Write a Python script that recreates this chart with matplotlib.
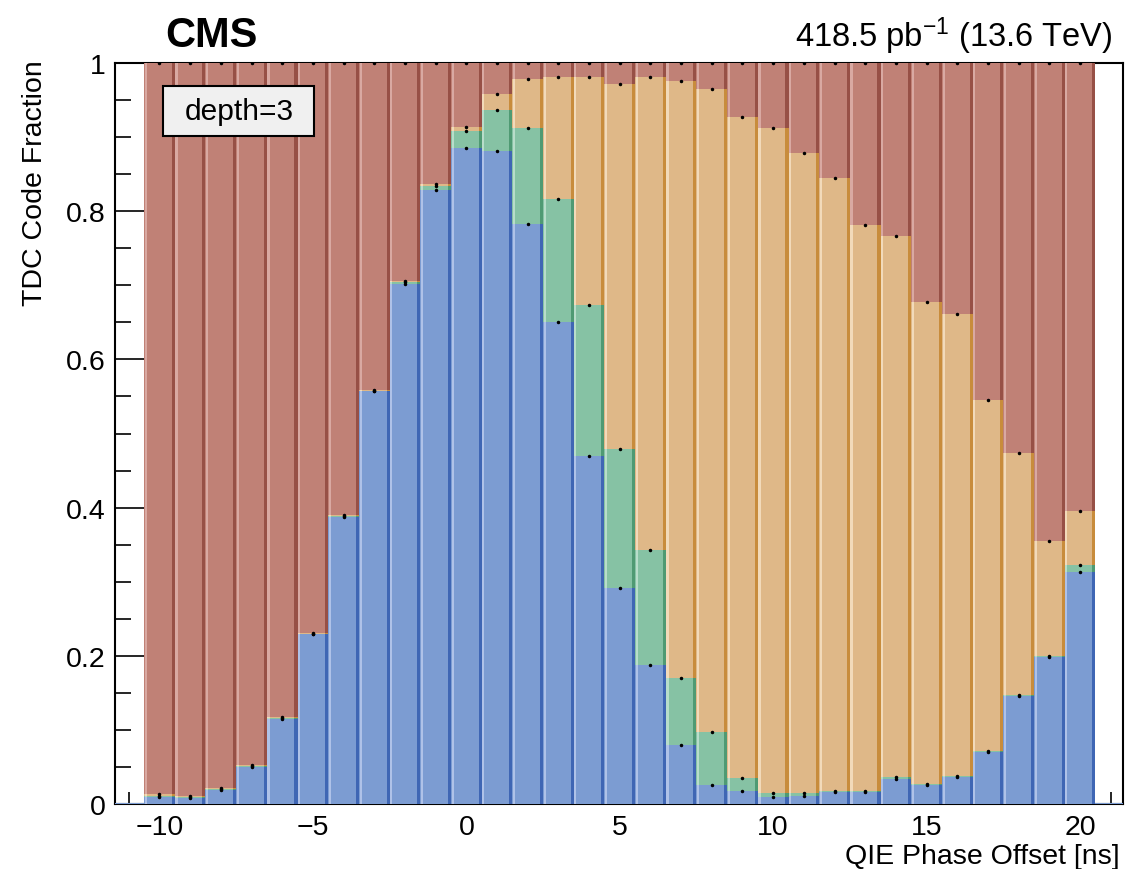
import numpy as np
import matplotlib
matplotlib.use("Agg")
import matplotlib.pyplot as plt
from matplotlib.patches import Rectangle
from matplotlib.ticker import MultipleLocator, FuncFormatter

plt.rcParams['font.family'] = ['Liberation Sans', 'DejaVu Sans']
plt.rcParams['mathtext.fontset'] = 'custom'
plt.rcParams['mathtext.rm'] = 'Liberation Sans'
plt.rcParams['mathtext.it'] = 'Liberation Sans:italic'
plt.rcParams['mathtext.bf'] = 'Liberation Sans:bold'

# QIE phase offset bin centres [ns]
phase = np.arange(-10, 21)

# fraction of hits per TDC code (bottom -> top)
frac_code0 = [0.009, 0.008, 0.019, 0.050, 0.115, 0.229, 0.388, 0.557, 0.702, 0.828,
              0.885, 0.881, 0.783, 0.650, 0.470, 0.292, 0.188, 0.079, 0.026, 0.017,
              0.009, 0.011, 0.016, 0.016, 0.034, 0.025, 0.036, 0.070, 0.146, 0.199, 0.313]
frac_code1 = [0.002, 0.001, 0.001, 0.001, 0.001, 0.001, 0.001, 0.001, 0.002, 0.006,
              0.023, 0.055, 0.129, 0.167, 0.203, 0.187, 0.155, 0.091, 0.071, 0.018,
              0.006, 0.004, 0.001, 0.001, 0.002, 0.002, 0.002, 0.001, 0.001, 0.001, 0.010]
frac_code2 = [0.003, 0.002, 0.001, 0.001, 0.001, 0.001, 0.001, 0.001, 0.002, 0.003,
              0.006, 0.022, 0.066, 0.164, 0.308, 0.493, 0.638, 0.806, 0.868, 0.892,
              0.897, 0.864, 0.828, 0.765, 0.730, 0.650, 0.623, 0.474, 0.327, 0.155, 0.072]
# the last code takes whatever is left, the columns are fractions
frac_code3 = 1.0 - (np.array(frac_code0) + np.array(frac_code1) + np.array(frac_code2))

layers = [frac_code0, frac_code1, frac_code2, frac_code3]
# (fill, left highlight, right shadow)
colors = [("#7C9CD2", "#AFC2E8", "#3F66B4"),
          ("#86C2A4", "#B8DDCA", "#4F9A73"),
          ("#DFB888", "#F2DABA", "#C88C3C"),
          ("#C08176", "#D9A9A2", "#975046")]

fig = plt.figure(figsize=(11.25, 8.7), dpi=100)
ax = fig.add_axes([0.1022, 0.0747, 0.8960, 0.8517])
ax.set_axisbelow(True)

width = 1.0
left_edges = phase - width / 2
light_w = 0.07
dark_w = 0.10

bottom = np.zeros(len(phase))
for vals, (fill, light, dark) in zip(layers, colors):
    vals = np.asarray(vals, dtype=float)
    ax.bar(left_edges, vals, width=width, bottom=bottom, align='edge',
           color=fill, linewidth=0, zorder=3)
    ax.bar(left_edges + 0.02, vals, width=light_w, bottom=bottom, align='edge',
           color=light, linewidth=0, zorder=3)
    ax.bar(left_edges + width - dark_w, vals, width=dark_w, bottom=bottom, align='edge',
           color=dark, linewidth=0, zorder=3)
    bottom = bottom + vals
    # tiny statistical error markers at the top of each segment
    ax.plot(phase, bottom, ls='none', marker='o', ms=1.5, color='black', zorder=4)

xmin, xmax = -11.45, 21.4
ax.set_xlim(xmin, xmax)
ax.set_ylim(0, 1)

# empty histogram outline along zero outside the filled bins
ax.hlines(0, xmin, left_edges[0], color="#7C9CD2", lw=1.5, zorder=4)
ax.hlines(0, left_edges[-1] + width, xmax, color="#7C9CD2", lw=1.5, zorder=4)

ax.xaxis.set_major_locator(MultipleLocator(5))
ax.xaxis.set_minor_locator(MultipleLocator(1))
ax.yaxis.set_major_locator(MultipleLocator(0.2))
ax.yaxis.set_minor_locator(MultipleLocator(0.05))
ax.yaxis.set_major_formatter(FuncFormatter(lambda v, p: "%g" % round(v, 2)))

ax.tick_params(axis='both', which='both', direction='in', labelsize=20.5, width=1.2,
               top=False, right=False)
ax.tick_params(axis='y', which='major', length=21, pad=7)
ax.tick_params(axis='y', which='minor', length=11.5)
ax.tick_params(axis='x', which='major', length=17, pad=7)
ax.tick_params(axis='x', which='minor', length=8.5)

for s in ax.spines.values():
    s.set_linewidth(1.5)
    s.set_color('black')

ax.set_xlabel("QIE Phase Offset [ns]", fontsize=20.5, loc='right')
ax.xaxis.set_label_coords(0.997, -0.052)
ax.set_ylabel("TDC Code Fraction", fontsize=20.5, loc='top')
ax.yaxis.set_label_coords(-0.066, 1.005)

# depth label box
ax.add_patch(Rectangle((0.0476, 0.9015), 0.150, 0.0675, transform=ax.transAxes,
                       facecolor="#F0F0F0", edgecolor='black', lw=1.5, zorder=5))
ax.text(0.123, 0.935, "depth=3", transform=ax.transAxes, ha='center', va='center',
        fontsize=21.5, zorder=6)

fig.text(0.1467, 0.946, "CMS", fontsize=30, fontweight='bold', ha='left', va='baseline')
fig.text(0.9884, 0.946, r"418.5 pb$^{-1}$ (13.6 TeV)", fontsize=23.5, ha='right', va='baseline')

fig.savefig("out.png", dpi=100)
